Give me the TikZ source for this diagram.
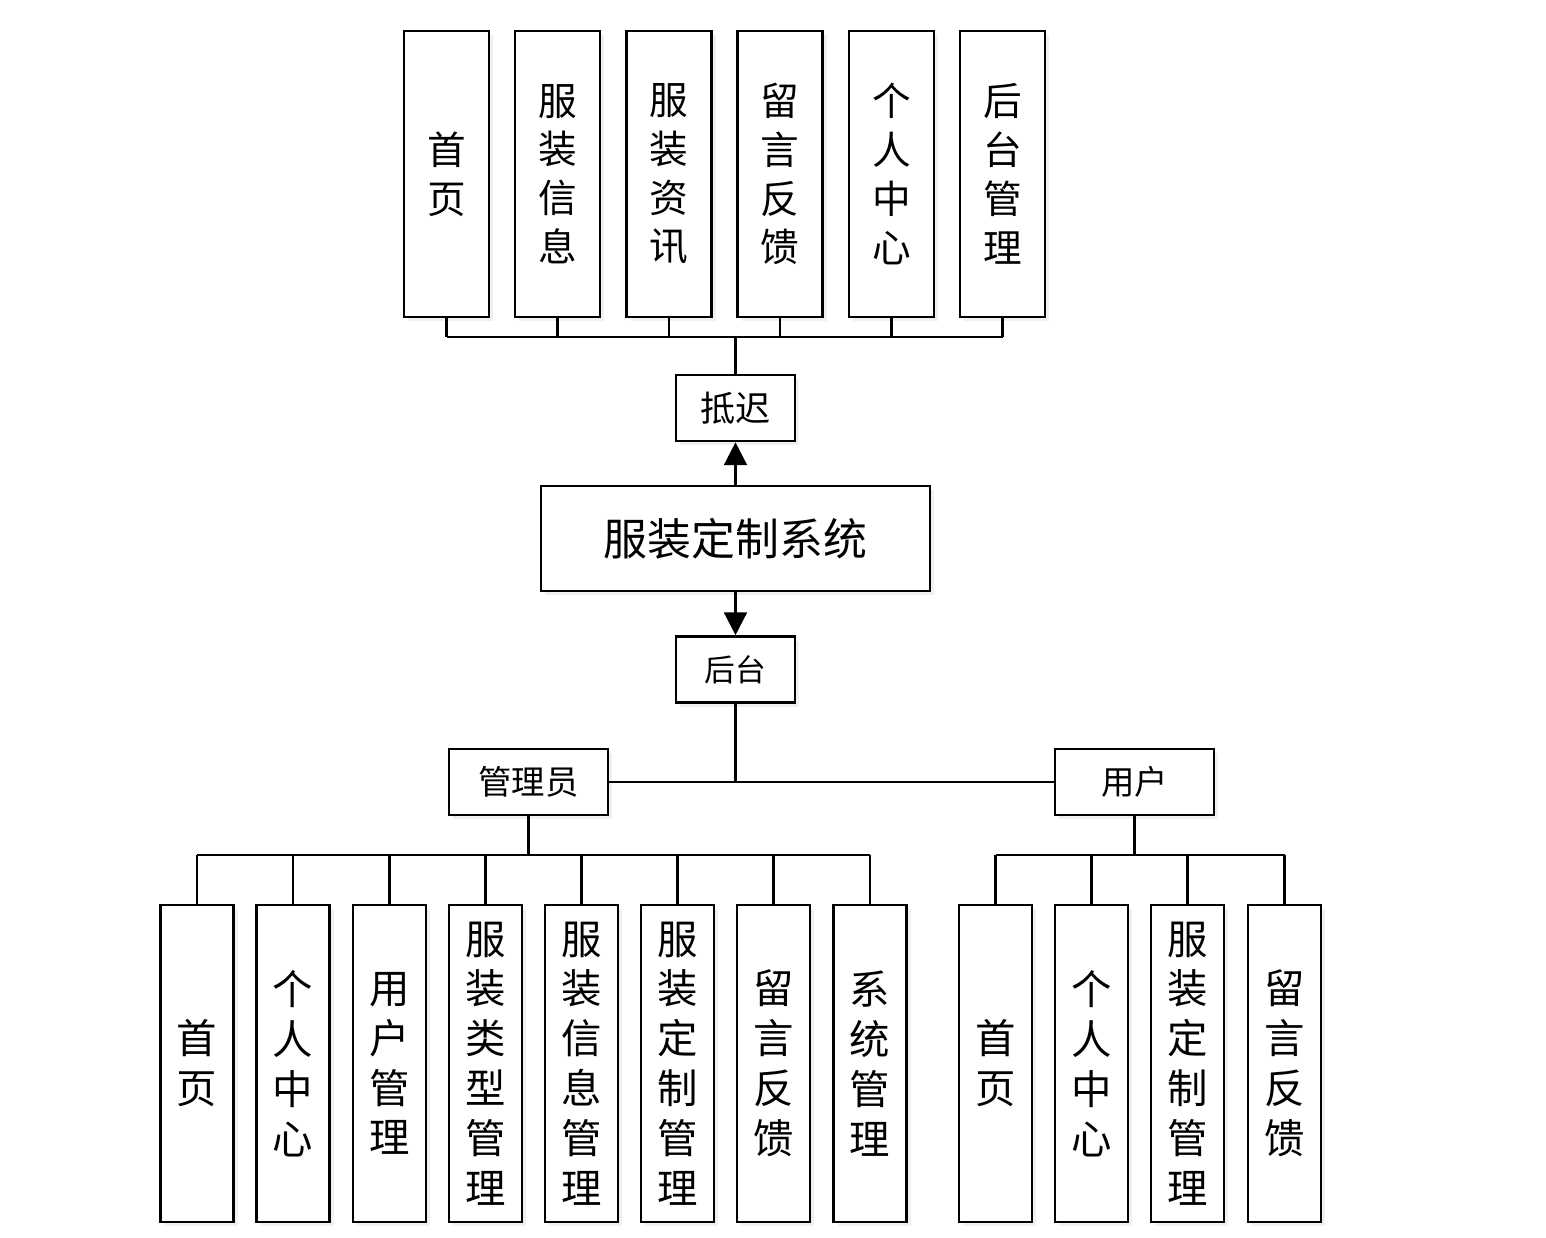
\documentclass[tikz,border=0pt]{standalone}
\usepackage{fontspec}
\setmainfont{Noto Sans CJK SC}
\usepackage{tikz}
\usetikzlibrary{positioning,shadows,arrows.meta}

\begin{document}
\begin{tikzpicture}[
    x=0.02cm, y=-0.02cm,
    box/.style={rectangle, draw, line width=1.5pt, fill=white, inner sep=0pt, align=center,
        drop shadow={opacity=0.12, shadow xshift=2.5pt, shadow yshift=-2.5pt}},
    topcol/.style={box, minimum width=1.7cm, minimum height=5.72cm, font=\fontsize{22}{27.8}\selectfont},
    subcol/.style={box, minimum width=1.46cm, minimum height=6.34cm, font=\fontsize{23}{28.4}\selectfont},
    small/.style={box, minimum width=2.38cm, minimum height=1.32cm},
    role/.style={box, minimum width=3.18cm, minimum height=1.32cm, font=\fontsize{19}{23}\selectfont},
    link/.style={line width=1.4pt},
    arrow/.style={link, -{Triangle[length=13pt, width=13pt]}}
]
\useasboundingbox (0,0) rectangle (1546,1238);

% Front end modules
\node[topcol] (t1) at (446.5, 174) {首\\页};
\node[topcol] (t2) at (557.5, 174) {服\\装\\信\\息};
\node[topcol] (t3) at (669, 174) {服\\装\\资\\讯};
\node[topcol] (t4) at (780, 174) {留\\言\\反\\馈};
\node[topcol] (t5) at (891.5, 174) {个\\人\\中\\心};
\node[topcol] (t6) at (1002.5, 174) {后\\台\\管\\理};
\coordinate (topbus) at (735.5, 337);

% Centre
\node[small, font=\fontsize{20}{24}\selectfont] (front) at (735.5, 408) {抵迟};
\node[box, minimum width=7.78cm, minimum height=2.1cm, font=\fontsize{25}{30}\selectfont] (sys) at (735.5, 538.5) {服装定制系统};
\node[small, font=\fontsize{17.5}{21}\selectfont] (back) at (735.5, 669.5) {后台};

% Roles
\node[role] (admin) at (528.5, 782) {管理员};
\node[role] (user) at (1134.5, 782) {用户};
\coordinate (abus) at (528.5, 855);
\coordinate (ubus) at (1134.5, 855);

% Admin modules
\node[subcol] (a1) at (197, 1063.5) {首\\页};
\node[subcol] (a2) at (293, 1063.5) {个\\人\\中\\心};
\node[subcol] (a3) at (389.5, 1063.5) {用\\户\\管\\理};
\node[subcol] (a4) at (485.5, 1063.5) {服\\装\\类\\型\\管\\理};
\node[subcol] (a5) at (581.5, 1063.5) {服\\装\\信\\息\\管\\理};
\node[subcol] (a6) at (677.5, 1063.5) {服\\装\\定\\制\\管\\理};
\node[subcol] (a7) at (773.5, 1063.5) {留\\言\\反\\馈};
\node[subcol] (a8) at (870, 1063.5) {系\\统\\管\\理};

% User modules
\node[subcol] (u1) at (995.5, 1063.5) {首\\页};
\node[subcol] (u2) at (1091.5, 1063.5) {个\\人\\中\\心};
\node[subcol] (u3) at (1187.5, 1063.5) {服\\装\\定\\制\\管\\理};
\node[subcol] (u4) at (1284.5, 1063.5) {留\\言\\反\\馈};

% Connectors
\draw[link] (t1.south |- topbus) -- (t6.south |- topbus);
\foreach \i in {1,...,6}
    \draw[link] (t\i.south) -- (t\i.south |- topbus);
\draw[link] (topbus) -- (front.north);
\draw[arrow] (sys.north) -- (front.south);
\draw[arrow] (sys.south) -- (back.north);
\draw[link] (back.south) -- (back.south |- admin.east);
\draw[link] (admin.east) -- (user.west);

\draw[link] (admin.south) -- (abus);
\draw[link] (a1.north |- abus) -- (a8.north |- abus);
\foreach \i in {1,...,8}
    \draw[link] (a\i.north) -- (a\i.north |- abus);

\draw[link] (user.south) -- (ubus);
\draw[link] (u1.north |- ubus) -- (u4.north |- ubus);
\foreach \i in {1,...,4}
    \draw[link] (u\i.north) -- (u\i.north |- ubus);

\end{tikzpicture}
\end{document}
